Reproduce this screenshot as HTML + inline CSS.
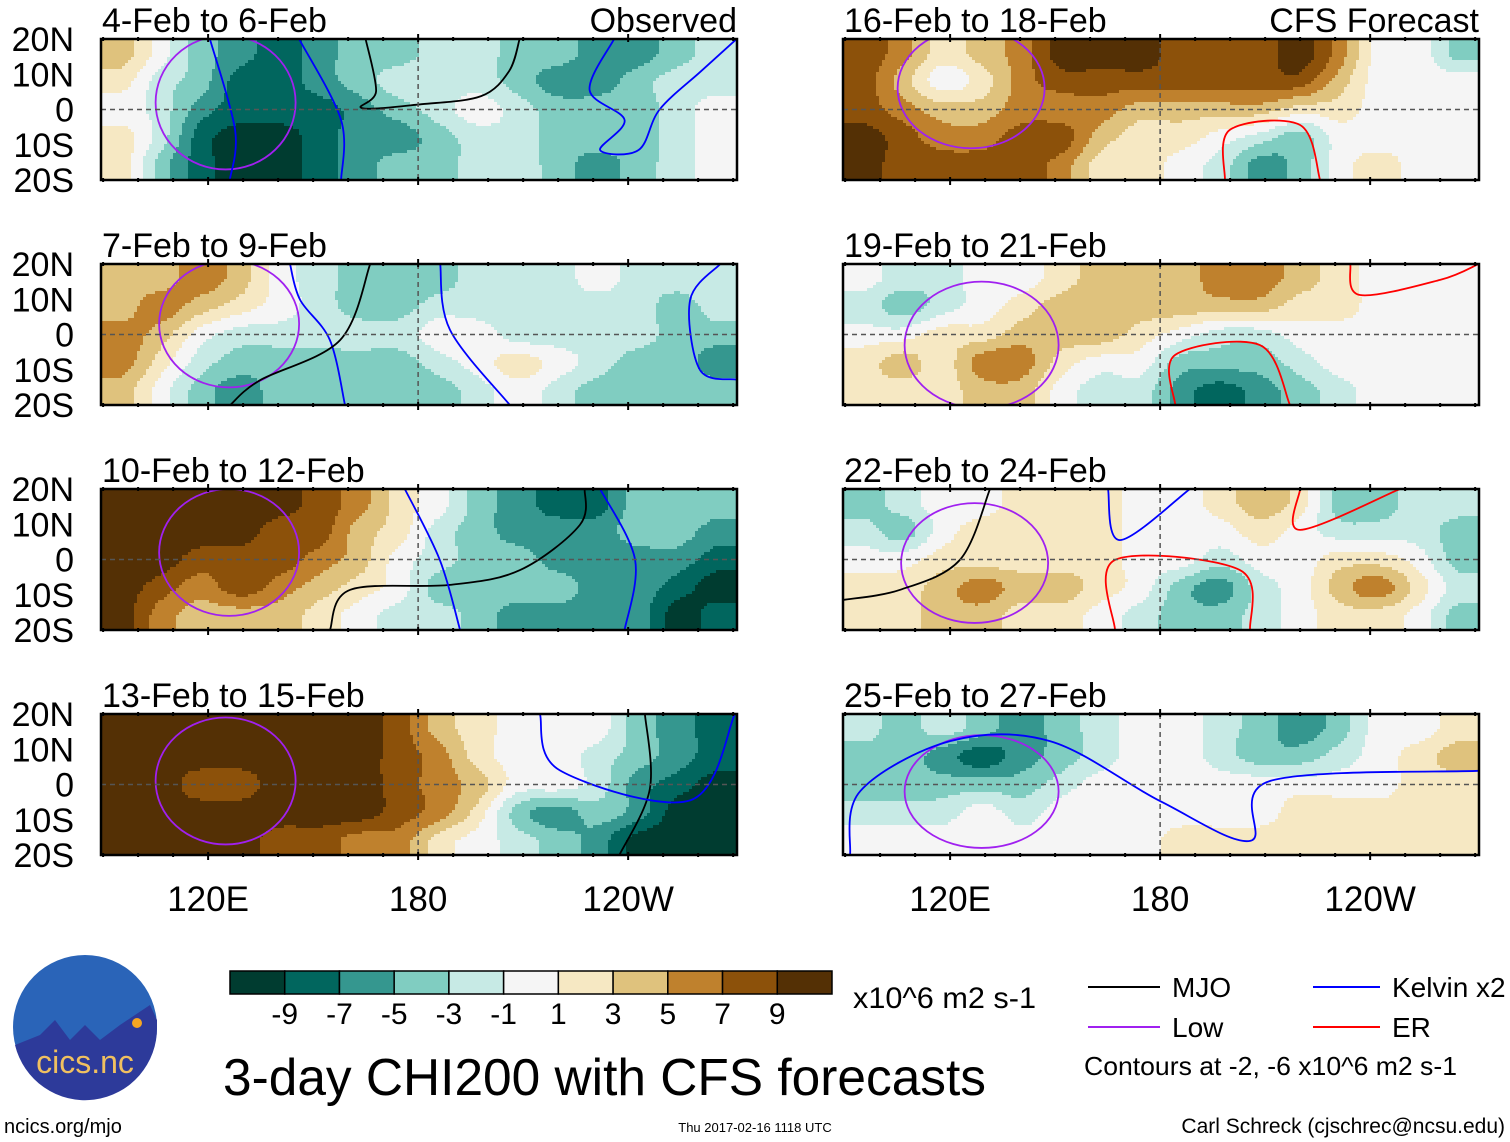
<!DOCTYPE html>
<html><head><meta charset="utf-8"><style>
body{margin:0;background:#fff;width:1510px;height:1142px;overflow:hidden;font-family:"Liberation Sans",sans-serif}
svg text{font-family:"Liberation Sans",sans-serif}
</style></head><body>
<svg id="s" width="1510" height="1142" viewBox="0 0 1510 1142" xmlns="http://www.w3.org/2000/svg" style="position:absolute;left:0;top:0">
</svg>
<script>
const levels=[-9,-7,-5,-3,-1,1,3,5,7,9];
const colors=["#003c30","#01665e","#35978f","#80cdc1","#c7eae5","#f5f5f5","#f6e8c3","#dfc27d","#bf812d","#8c510a","#543005"];
const titles=["4-Feb to 6-Feb","7-Feb to 9-Feb","10-Feb to 12-Feb","13-Feb to 15-Feb","16-Feb to 18-Feb","19-Feb to 21-Feb","22-Feb to 24-Feb","25-Feb to 27-Feb"];
const latLabels=["20N","10N","0","10S","20S"];
const lonLabels=["120E","180","120W"];
const lonTicks=[120,180,240];
const f1=[[5,1,-3,-5,-7,-5,-3,-3,-1,-1,-3,-3,-5,-5,-3,-1],[3,-1,-3,-7,-7,-5,-3,-1,-1,-1,-3,-5,-5,-3,-1,-1],[1,-1,-5,-7,-7,-7,-5,-3,-1,1,-1,-3,-3,-3,-1,1],[3,-1,-7,-9,-9,-7,-5,-5,-3,-1,-1,-3,-3,-3,-1,1],[3,-3,-7,-9,-9,-7,-5,-3,-3,-1,-1,-3,-5,-3,-1,1]];
const f2=[[5,5,7,5,1,-1,-3,-3,-3,-1,-1,-1,1,-1,-1,-1],[5,7,5,3,1,-1,-3,-3,-1,-1,-1,-1,-1,-1,-3,-1],[7,5,1,-1,-1,-1,-1,-1,1,1,-1,-1,-1,-1,-3,-3],[7,3,-1,-3,-3,-3,-3,-3,-1,1,3,1,-1,-3,-3,-5],[5,1,-3,-5,-3,-3,-3,-3,-3,-1,1,-1,-3,-3,-3,-3]];
const f3=[[11,11,11,11,11,9,7,3,1,-3,-5,-7,-7,-3,-3,-3],[11,11,11,11,9,9,5,3,-1,-3,-5,-5,-5,-3,-3,-5],[11,11,9,9,9,7,5,1,-1,-3,-3,-5,-5,-5,-5,-7],[11,9,7,9,7,5,3,1,-3,-3,-3,-3,-5,-5,-7,-9],[11,7,5,5,5,3,1,-1,-1,-3,-5,-5,-5,-5,-9,-7]];
const f4=[[11,11,11,11,11,11,11,9,5,3,1,1,1,-3,-5,-7],[11,11,11,11,11,11,11,9,7,3,1,1,-1,-3,-5,-7],[11,11,9,9,11,11,11,9,7,5,1,1,-1,-5,-7,-9],[11,11,11,11,11,11,11,9,7,3,-3,-5,-3,-5,-9,-9],[11,11,11,11,9,9,7,7,3,1,-1,-3,-5,-9,-9,-9]];
const f5=[[9,7,3,5,7,11,11,11,9,9,9,11,7,1,1,-3],[9,5,1,3,7,9,9,9,9,9,9,9,5,1,1,1],[9,7,5,5,7,7,7,5,5,5,5,3,3,1,1,1],[11,9,7,7,9,9,5,3,3,1,-1,-3,1,1,1,1],[11,9,9,9,9,7,3,3,1,-1,-5,-3,1,3,1,1]];
const f6=[[1,-1,-1,1,1,3,5,5,5,7,7,5,3,1,1,1],[-1,-3,-1,1,3,5,5,5,5,5,5,3,3,1,1,1],[1,1,3,3,5,5,5,3,1,-1,-1,1,1,1,1,1],[3,5,3,7,7,3,1,1,-3,-3,-3,-1,1,1,1,1],[3,3,3,5,5,1,-1,-1,-5,-7,-5,-3,-1,1,1,1]];
const f7=[[-3,-1,1,1,3,3,3,1,1,3,5,3,-3,-3,-1,-1],[-1,-3,1,3,3,3,3,1,1,1,3,1,-1,-1,-1,-3],[1,1,3,3,3,3,3,1,1,-1,1,1,3,3,1,-3],[3,3,5,7,5,5,3,1,-3,-5,-1,1,5,7,3,-1],[3,3,5,5,3,3,1,-1,-3,-3,-1,1,3,3,1,-3]];
const f8=[[-1,-3,-1,-3,-5,-3,-1,1,1,-1,-3,-5,-3,1,1,3],[-3,-3,-5,-7,-5,-3,-1,1,1,-1,-3,-3,-1,1,3,5],[-3,-3,-3,-3,-3,-1,1,1,1,1,1,1,1,1,3,3],[-1,-1,-1,1,-1,1,1,1,1,1,1,3,3,3,3,3],[1,1,1,1,1,1,1,1,3,3,3,3,3,3,3,3]];
const fields=[f1,f2,f3,f4,f5,f6,f7,f8];
// Low (purple) contour centres [lon, lat, rx deg, ry deg]
const lowC=[[125,2,20,19],[126,3,20,18],[126,2,20,18],[125,1,20,18],[126,6,21,17],[129,-3,22,18],[127,-1,21,17],[129,-2,22,16]];
// Wave contours: panel index, type, lon list, lat list
const lineP=[0,0,0,0,2,2,2,3,3,4,5,5,6,6,6,7,1,1,1,1,6];
const lineT=["mjo","kelvin","kelvin","kelvin","mjo","kelvin","kelvin","mjo","kelvin","er","er","er","er","kelvin","er","kelvin","kelvin","kelvin","mjo","kelvin","mjo"];
const lineLon=[[165,168,164,181,198,206,209],[120.5,127.7,126.2],[146,158,158],[236,229,239,232,243,249,261,271],[154.8,160.6,189.1,209.1,226.2,227.6],[176.2,186.2,192],[232,242,239],[244.8,246.2,237.5],[214.8,220.5,257.7,270.5],[198.5,199.9,220,225.7],[184.3,184.3,208.5,217.1],[234.3,237.1,260,271],[167.1,167.1,202.8,205.7],[165.1,168.5,188.5],[220,220,248.5],[91.4,94.3,120,148.5,180,205.7,211.4,271],[143.4,146.3,154.8,159.1],[186.3,189.1,206.2],[166.3,157.7,134.8,126.3],[266.3,257.7,260.5,271],[89.4,105.7,122.8,131.4]];
const lineLat=[[20,5.2,0.4,1.5,3.8,10.9,20],[20,-5.8,-20],[20,-3,-20],[20,5.5,-3,-11.5,-11.5,0,11,20],[-20,-8.6,-7.2,-3,9.8,20],[20,-0.1,-20],[20,-0.1,-20],[20,-1.3,-20],[20,4,-4.5,20],[-20,-5.8,-4.4,-20],[-20,-5.8,-3,-20],[20,11.2,15.5,20],[-20,-0.1,-3,-20],[20,5.5,20],[20,8.4,20],[-20,-1.9,12.3,12.3,-4.7,-16,1,3.9],[20,9.8,-1.6,-20],[20,1.3,-20],[20,-1.6,-13,-20],[20,9.8,-10,-12.8],[-11.5,-8.6,-0.1,20]];
const lineColor={mjo:"#000000",kelvin:"#0000ff",er:"#ff0000"};

const NS="http://www.w3.org/2000/svg",svg=document.getElementById('s');
function mk(t,a,p){const e=document.createElementNS(NS,t);for(const k in a)e.setAttribute(k,a[k]);(p||svg).appendChild(e);return e;}
function lvl(v){v-=0.99;let i=0;while(i<levels.length&&v>levels[i])i++;return i;}
const PW=636,PH=141,tops=[39,264,489,714],lefts=[101,843];
const LON0=89.4,LON1=271.1;
function xs(x0,lon){return x0+(lon-LON0)/(LON1-LON0)*PW;}
function ys(y0,lat){return y0+(20-lat)/40*PH;}
function cr(p0,p1,p2,p3,t){return 0.5*((2*p1)+(-p0+p2)*t+(2*p0-5*p1+4*p2-p3)*t*t+(-p0+3*p1-3*p2+p3)*t*t*t);}
function sample(F,fx,fy){
 const nr=F.length,nc=F[0].length;
 fx=Math.max(0,Math.min(nc-1.0001,fx));fy=Math.max(0,Math.min(nr-1.0001,fy));
 const c=Math.floor(fx),r=Math.floor(fy),tx=fx-c,ty=fy-r;
 const rowv=[];
 for(let k=-1;k<=2;k++){const rr=Math.max(0,Math.min(nr-1,r+k));const R=F[rr];
  const g=i=>R[Math.max(0,Math.min(nc-1,i))];
  rowv.push(cr(g(c-1),g(c),g(c+1),g(c+2),tx));}
 return cr(rowv[0],rowv[1],rowv[2],rowv[3],ty);
}
function smoothPath(pts){
 let d='M'+pts[0][0].toFixed(1)+','+pts[0][1].toFixed(1);
 for(let i=0;i<pts.length-1;i++){
  const p0=pts[Math.max(0,i-1)],p1=pts[i],p2=pts[i+1],p3=pts[Math.min(pts.length-1,i+2)];
  const c1=[p1[0]+(p2[0]-p0[0])/6,p1[1]+(p2[1]-p0[1])/6],c2=[p2[0]-(p3[0]-p1[0])/6,p2[1]-(p3[1]-p1[1])/6];
  d+=' C'+c1.map(v=>v.toFixed(1)).join(',')+' '+c2.map(v=>v.toFixed(1)).join(',')+' '+p2.map(v=>v.toFixed(1)).join(',');
 }
 return d;
}
const panelG=[];
fields.forEach((F,p)=>{
 const x0=lefts[p<4?0:1],y0=tops[p%4];
 const g=mk('g',{});
 
 
 const nc=F[0].length,nr=F.length,cw=PW/nc,rh=PH/nr;
 const S=3;
 for(let y=0;y<PH;y+=S){
  let runStart=0,runL=-1;
  const fy=(y+S/2)/rh-0.5;
  for(let x=0;x<=PW;x+=S){
   const L=x<PW?lvl(sample(F,(x+S/2)/cw-0.5,fy)):-2;
   if(L!==runL){
    if(runL>=0){
     const cell=mk('rect',{x:x0+runStart,y:y0+y,width:Math.min(x,PW)-runStart+0.6,height:Math.min(S,PH-y)+0.6,fill:colors[runL]},g);
     
     
    }
    runStart=x;runL=L;
   }
  }
 }
 const cp=mk('clipPath',{id:'c'+p},g);mk('rect',{x:x0,y:y0,width:PW,height:PH},cp);
 const lg=mk('g',{'clip-path':'url(#c'+p+')'},g);
 panelG.push(lg);
 const Lc=lowC[p];
 const lo=mk('ellipse',{cx:xs(x0,Lc[0]),cy:ys(y0,Lc[1]),rx:Lc[2]/(LON1-LON0)*PW,ry:Lc[3]/40*PH,fill:'none',stroke:'#a020f0','stroke-width':1.8},lg);
 
 
 mk('line',{x1:x0,x2:x0+PW,y1:ys(y0,0),y2:ys(y0,0),stroke:'#555','stroke-dasharray':'5,4','stroke-width':1.5},g);
 mk('line',{x1:xs(x0,180),x2:xs(x0,180),y1:y0,y2:y0+PH,stroke:'#555','stroke-dasharray':'5,4','stroke-width':1.5},g);
 mk('rect',{x:x0,y:y0,width:PW,height:PH,fill:'none',stroke:'#000','stroke-width':2.5},g);
 for(let lon=90;lon<=270;lon+=10){const X=xs(x0,lon);const big=lonTicks.includes(lon);
  mk('line',{x1:X,x2:X,y1:y0-(big?5:2),y2:y0+(big?3:2),stroke:'#000','stroke-width':2},g);
  mk('line',{x1:X,x2:X,y1:y0+PH-(big?3:2),y2:y0+PH+(big?5:2),stroke:'#000','stroke-width':2},g);}
 const t=mk('text',{x:x0+1,y:y0-7,'font-size':34},g);t.textContent=titles[p];
 
 
 if(p<4) latLabels.forEach((s,i)=>{const lt=mk('text',{x:74,y:y0+i*PH/4+12,'font-size':34,'text-anchor':'end'},g);lt.textContent=s;
  
  });
});
lineP.forEach((p,i)=>{
 const x0=lefts[p<4?0:1],y0=tops[p%4];
 const pts=lineLon[i].map((lon,j)=>[xs(x0,lon),ys(y0,lineLat[i][j])]);
 const path=mk('path',{d:smoothPath(pts),fill:'none',stroke:lineColor[lineT[i]],'stroke-width':1.8},panelG[p]);
 
 
});
[['Observed',737],['CFS Forecast',1479]].forEach(a=>{const t=mk('text',{x:a[1],y:32,'font-size':34,'text-anchor':'end'});t.textContent=a[0];
 
 });
lefts.forEach(x0=>lonTicks.forEach((lon,i)=>{const t=mk('text',{x:xs(x0,lon),y:911,'font-size':35,'text-anchor':'middle'});t.textContent=lonLabels[i];
 
 }));
const cb=mk('g',{});


const bw=602/11;
colors.forEach((c,i)=>mk('rect',{x:230+i*bw,y:971,width:bw,height:23,fill:c,stroke:'#000','stroke-width':1.5},cb));
levels.forEach((v,i)=>{const t=mk('text',{x:230+(i+1)*bw,y:1024,'font-size':30,'text-anchor':'middle'},cb);t.textContent=v;});
</script>
<svg width="1510" height="1142" style="position:absolute;left:0;top:0" xmlns="http://www.w3.org/2000/svg">
<text x="853" y="1008" font-size="30" textLength="183" lengthAdjust="spacingAndGlyphs">x10^6 m2 s-1</text>
<text x="223" y="1095" font-size="52" textLength="763" lengthAdjust="spacingAndGlyphs">3-day CHI200 with CFS forecasts</text>
<g font-size="28">
<line x1="1088" x2="1160" y1="987" y2="987" stroke="#000" stroke-width="2"/><text x="1172" y="997">MJO</text>
<line x1="1313" x2="1380" y1="987" y2="987" stroke="#0000ff" stroke-width="2"/><text x="1392" y="997">Kelvin x2</text>
<line x1="1088" x2="1160" y1="1027" y2="1027" stroke="#a020f0" stroke-width="2"/><text x="1172" y="1037">Low</text>
<line x1="1313" x2="1380" y1="1027" y2="1027" stroke="#ff0000" stroke-width="2"/><text x="1392" y="1037">ER</text>
<text x="1084" y="1075" font-size="26" textLength="373" lengthAdjust="spacingAndGlyphs">Contours at -2, -6 x10^6 m2 s-1</text>
</g>
<g>
<circle cx="85" cy="1027" r="72" fill="#2a64b8"/>
<path d="M15 1045 L40 1035 L55 1020 L70 1040 L85 1025 L100 1040 L120 1025 L150 1005 L157 1020 L157 1027 A72 72 0 0 1 15 1045Z" fill="#2d3a9a"/>
<circle cx="137" cy="1023" r="5" fill="#f5a623"/>
<text x="85" y="1073" font-size="32" text-anchor="middle" fill="#f0c060">cics.nc</text>
</g>
<text x="4" y="1133" font-size="20">ncics.org/mjo</text>
<text x="755" y="1132" font-size="13" text-anchor="middle">Thu 2017-02-16 1118 UTC</text>
<text x="1505" y="1133" font-size="21" text-anchor="end">Carl Schreck (cjschrec@ncsu.edu)</text>
</svg>
</body></html>
